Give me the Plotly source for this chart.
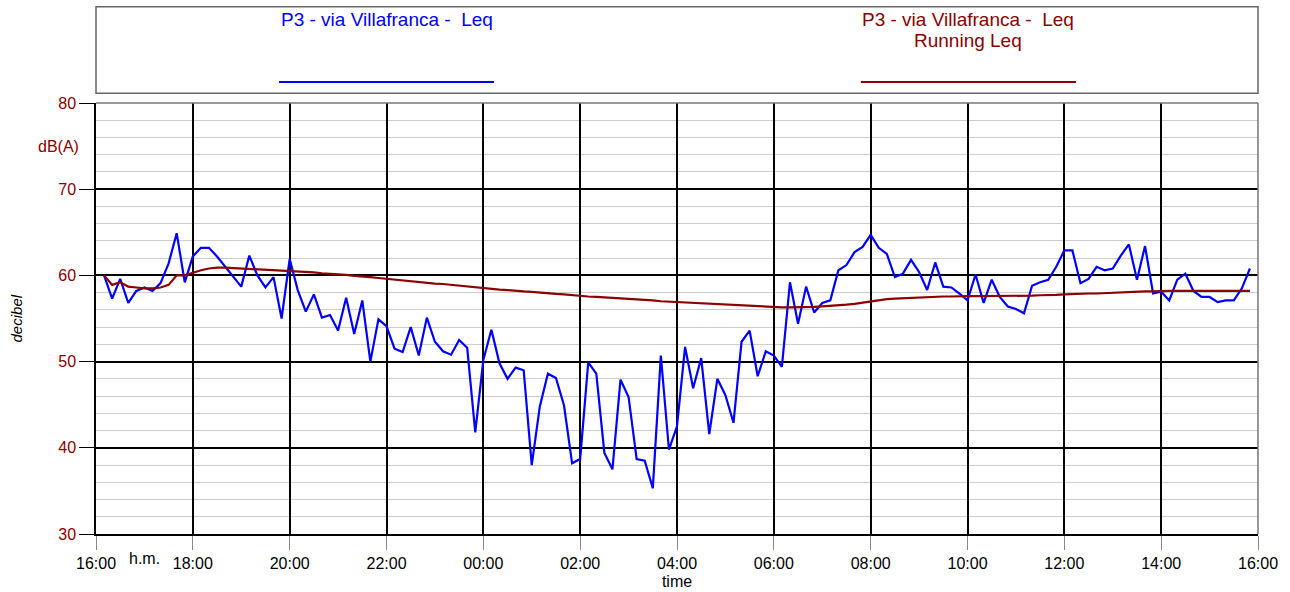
import pandas as pd
import plotly.graph_objects as go

# 10-minute Leq values, 16:10 -> 15:50 (next day)
leq_values = [
    60.0, 57.3, 59.6, 56.8, 58.2, 58.6, 58.2, 59.1, 61.4, 64.9,
    59.2, 62.2, 63.2, 63.2, 62.2, 61.0, 59.8, 58.7, 62.3, 60.0,
    58.6, 59.8, 55.0, 61.9, 58.3, 55.8, 57.8, 55.1, 55.4, 53.6,
    57.4, 53.2, 57.1, 50.0, 54.9, 54.1, 51.5, 51.1, 54.0, 50.7,
    55.1, 52.3, 51.2, 50.8, 52.5, 51.6, 41.8, 50.2, 53.7, 49.8,
    48.0, 49.3, 49.0, 38.0, 44.8, 48.6, 48.1, 44.9, 38.2, 38.7,
    49.9, 48.6, 39.4, 37.5, 47.9, 45.9, 38.7, 38.5, 35.3, 50.7,
    39.8, 42.5, 51.7, 46.9, 50.4, 41.6, 48.0, 46.1, 42.9, 52.3,
    53.6, 48.3, 51.2, 50.7, 49.4, 59.2, 54.4, 58.7, 55.7, 56.8,
    57.1, 60.6, 61.2, 62.7, 63.3, 64.7, 63.2, 62.5, 59.8, 60.2,
    61.8, 60.4, 58.3, 61.5, 58.7, 58.6, 57.9, 57.1, 60.1, 56.8,
    59.5, 57.5, 56.4, 56.1, 55.6, 58.8, 59.2, 59.5, 61.0, 62.9,
    62.9, 59.1, 59.6, 61.0, 60.6, 60.8, 62.3, 63.6, 59.5, 63.4,
    57.9, 58.1, 57.1, 59.5, 60.2, 58.2, 57.5, 57.5, 56.9, 57.1,
    57.1, 58.5, 60.8,
]

running_leq = [
    60.0, 58.9, 59.2, 58.7, 58.6, 58.5, 58.5, 58.6, 58.9, 60.0,
    60.0, 60.3, 60.6, 60.8, 60.9, 60.9, 60.85, 60.8, 60.8, 60.75,
    60.7, 60.65, 60.6, 60.55, 60.5, 60.4, 60.35, 60.25, 60.2, 60.1,
    60.05, 59.95, 59.9, 59.8, 59.7, 59.6, 59.5, 59.4, 59.3, 59.2,
    59.15, 59.05, 59.0, 58.9, 58.85, 58.75, 58.65, 58.55, 58.45, 58.35,
    58.3, 58.2, 58.15, 58.1, 58.0, 57.95, 57.85, 57.8, 57.7, 57.6,
    57.55, 57.5, 57.45, 57.4, 57.3, 57.25, 57.2, 57.15, 57.1, 57.0,
    56.95, 56.9, 56.85, 56.8, 56.75, 56.7, 56.65, 56.6, 56.55, 56.5,
    56.45, 56.4, 56.4, 56.35, 56.3, 56.3, 56.3, 56.3, 56.35, 56.4,
    56.45, 56.5, 56.6, 56.7, 56.85, 57.0, 57.15, 57.25, 57.3, 57.35,
    57.4, 57.45, 57.5, 57.5, 57.55, 57.55, 57.6, 57.6, 57.6, 57.6,
    57.65, 57.65, 57.65, 57.65, 57.65, 57.65, 57.7, 57.7, 57.75, 57.8,
    57.85, 57.85, 57.9, 57.9, 57.95, 58.0, 58.05, 58.1, 58.1, 58.15,
    58.15, 58.2, 58.2, 58.2, 58.2, 58.2, 58.2, 58.2, 58.2, 58.2,
    58.2, 58.2, 58.2,
]

times = pd.date_range("2000-01-01 16:10", periods=len(leq_values), freq="10min")

x_start = "2000-01-01 16:00"
x_end = "2000-01-02 16:00"
y_ticks = [30, 40, 50, 60, 70, 80]

series_name_1 = "P3 - via Villafranca -&nbsp; Leq"
series_name_2a = "P3 - via Villafranca -&nbsp; Leq"
series_name_2b = "Running Leq"

BLUE = "#0000FF"
DRED = "#8B0000"
FONT = "Liberation Sans, Arial, sans-serif"

fig = go.Figure()
fig.add_trace(go.Scatter(x=times, y=leq_values, mode="lines",
                         line=dict(color=BLUE, width=2.2), name="Leq",
                         showlegend=False))
fig.add_trace(go.Scatter(x=times, y=running_leq, mode="lines",
                         line=dict(color=DRED, width=2.2), name="Running Leq",
                         showlegend=False))

fig.update_layout(
    width=1290, height=592,
    margin=dict(l=96, r=32, t=103, b=58, autoexpand=False),
    paper_bgcolor="white", plot_bgcolor="white",
    font=dict(family=FONT, size=16, color="black"),
    showlegend=False,
)

fig.update_xaxes(
    type="date", range=[x_start, x_end],
    tickformat="%H:%M", dtick=7200000, tick0=x_start,
    showgrid=True, gridcolor="black", gridwidth=1.5,
    ticks="outside", ticklen=14, tickcolor="#888888", tickwidth=1,
    tickfont=dict(size=16, color="black"),
    showline=True, linecolor="black", linewidth=1.5, mirror=False,
    title=dict(text="time", font=dict(size=16, color="black"), standoff=5),
    zeroline=False,
)
fig.update_yaxes(
    range=[30, 80], tickvals=y_ticks,
    showgrid=True, gridcolor="black", gridwidth=1.5,
    minor=dict(dtick=2, showgrid=True, gridcolor="#cccccc", gridwidth=1.2, ticks=""),
    ticks="outside", ticklen=15, tickcolor="black", tickwidth=1,
    tickfont=dict(size=16, color=DRED),
    showline=True, linecolor="black", linewidth=1.5,
    zeroline=False,
)

# top and right frame in gray
fig.add_shape(type="line", xref="paper", yref="paper", x0=0, x1=1, y0=1, y1=1,
              line=dict(color="#777777", width=1.5))
fig.add_shape(type="line", xref="paper", yref="paper", x0=1, x1=1, y0=0, y1=1,
              line=dict(color="#777777", width=1.5))

# legend box
fig.add_shape(type="rect", xref="paper", yref="paper", x0=0, x1=1,
              y0=1.0225, y1=1.2234, line=dict(color="#666666", width=1.5),
              fillcolor="rgba(0,0,0,0)")
fig.add_shape(type="line", xref="paper", yref="paper", x0=0.1575, x1=0.3425,
              y0=1.0487, y1=1.0487, line=dict(color=BLUE, width=2.2))
fig.add_shape(type="line", xref="paper", yref="paper", x0=0.6583, x1=0.8434,
              y0=1.0487, y1=1.0487, line=dict(color=DRED, width=2.2))

fig.add_annotation(xref="paper", yref="paper", x=0.2504, y=1.1948,
                   xanchor="center", yanchor="middle",
                   text=series_name_1, showarrow=False,
                   font=dict(size=19, color=BLUE, family=FONT))
fig.add_annotation(xref="paper", yref="paper", x=0.7504, y=1.1948,
                   xanchor="center", yanchor="middle",
                   text=series_name_2a, showarrow=False,
                   font=dict(size=19, color=DRED, family=FONT))
fig.add_annotation(xref="paper", yref="paper", x=0.7504, y=1.1439,
                   xanchor="center", yanchor="middle",
                   text=series_name_2b, showarrow=False,
                   font=dict(size=19, color=DRED, family=FONT))

# axis extra labels
fig.add_annotation(xref="paper", yref="paper", x=-0.013, y=0.9, xanchor="right",
                   yanchor="middle", text="dB(A)", showarrow=False,
                   font=dict(size=16, color=DRED))
fig.add_annotation(xref="paper", yref="paper", x=-0.068, y=0.5, textangle=-90,
                   xanchor="center", yanchor="middle",
                   text="<i>decibel</i>", showarrow=False,
                   font=dict(size=15, color="black"))
fig.add_annotation(xref="x", yref="paper", x="2000-01-01 17:00", y=-0.058,
                   xanchor="center", yanchor="middle", text="h.m.", showarrow=False,
                   font=dict(size=16, color="black"))

fig.write_html("out.html", config={"displayModeBar": False},
               post_script="document.body.style.margin='0';")
